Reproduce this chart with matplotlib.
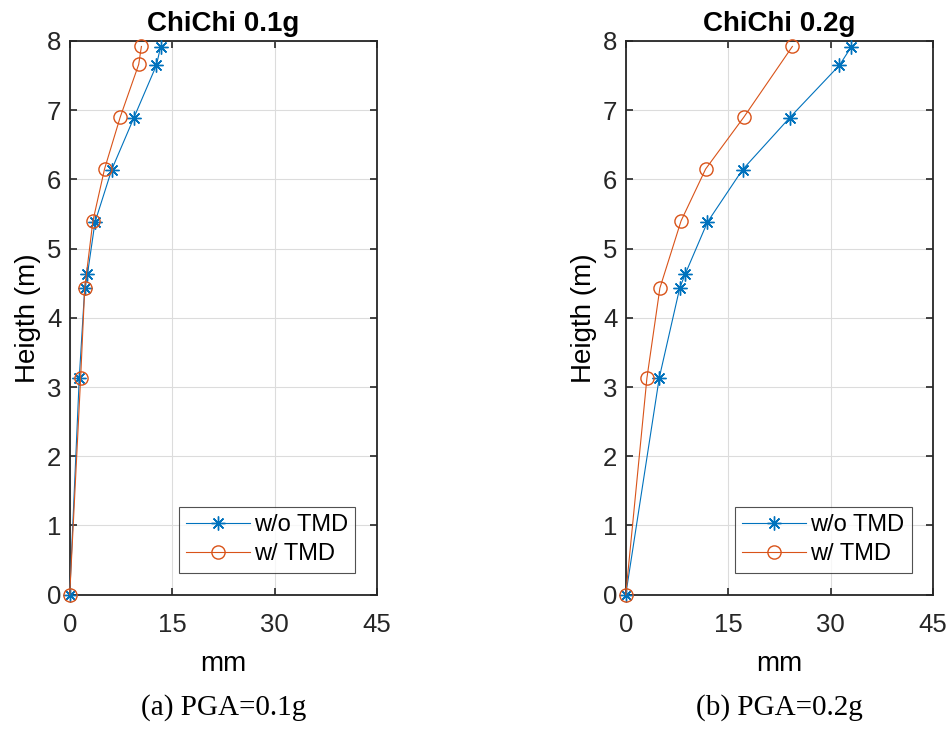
import numpy as np
import matplotlib.pyplot as plt

# data (mm, m)
h_wo = [0, 3.13, 4.43, 4.63, 5.38, 6.14, 6.89, 7.65, 7.91]
h_w1 = [0, 3.13, 4.43, 5.40, 6.15, 6.90, 7.66, 7.92]
h_w2 = [0, 3.13, 4.43, 5.40, 6.15, 6.90, 7.92]

d_wo_01 = [0, 1.4, 2.2, 2.6, 3.7, 6.15, 9.4, 12.7, 13.3]
d_w_01 = [0, 1.6, 2.2, 3.4, 5.1, 7.4, 10.1, 10.5]

d_wo_02 = [0, 4.9, 7.9, 8.7, 11.95, 17.1, 24.0, 31.3, 33.0]
d_w_02 = [0, 3.1, 5.0, 8.1, 11.7, 17.3, 24.4]

titles = ['ChiChi 0.1g', 'ChiChi 0.2g']
captions = ['(a) PGA=0.1g', '(b) PGA=0.2g']

plt.rcParams['font.family'] = ['Liberation Sans', 'DejaVu Sans']

blue = '#0072BD'
orange = '#D95319'
star = (8, 2, 0)

fig = plt.figure(figsize=(9.51, 7.31), dpi=100)

panels = [
    (0.0733, d_wo_01, h_wo, d_w_01, h_w1),
    (0.658, d_wo_02, h_wo, d_w_02, h_w2),
]

for k, (left, xa, ya, xb, yb) in enumerate(panels):
    ax = fig.add_axes([left, 0.1865, 0.3231, 0.7575])
    ax.plot(xa, ya, color=blue, lw=0.8, marker=star, ms=10, mew=1.0,
            label='w/o TMD', clip_on=False, zorder=3)
    ax.plot(xb, yb, color=orange, lw=0.8, marker='o', ms=9.5, mew=1.0,
            mfc='none', label='w/ TMD', clip_on=False, zorder=3)
    ax.set_xlim(0, 45)
    ax.set_ylim(0, 8)
    ax.set_xticks([0, 15, 30, 45])
    ax.set_yticks(range(0, 9))
    ax.grid(True, color='#dcdcdc', lw=0.8)
    ax.set_axisbelow(True)
    ax.tick_params(direction='in', length=5, width=1.2, labelsize=18.5,
                   top=True, right=True, colors='#262626')
    ax.tick_params(axis='x', pad=13.5)
    ax.tick_params(axis='y', pad=6)
    for s in ax.spines.values():
        s.set_linewidth(1.3)
        s.set_color('#262626')
    ax.set_title(titles[k], fontsize=20, fontweight='bold', pad=7)
    ax.set_xlabel('mm', fontsize=20, labelpad=10)
    ax.set_ylabel('Heigth (m)', fontsize=20, labelpad=4)
    leg = ax.legend(loc='lower right', fontsize=17, frameon=True, fancybox=False,
                    edgecolor='#262626', borderpad=0.3, handlelength=2.7,
                    handletextpad=0.2, labelspacing=0.3, borderaxespad=0,
                    bbox_to_anchor=(0.93, 0.04))
    leg.get_frame().set_linewidth(0.8)
    fig.text(left + 0.3231 / 2, 0.0315, captions[k], ha='center', va='center',
             fontsize=21, family='Liberation Serif')

fig.savefig('out.png', dpi=100)
